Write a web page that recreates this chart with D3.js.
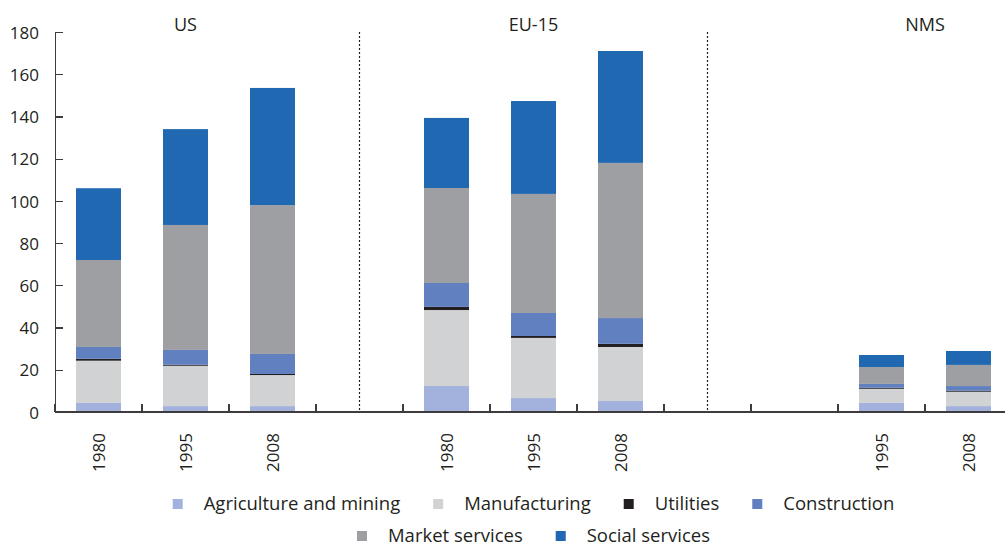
<!DOCTYPE html>
<html lang="en">
<head>
<meta charset="UTF-8">
<title>Employment by sector</title>
<script src="https://d3js.org/d3.v7.min.js"></script>
<style>
  body { margin: 0; background: #fff; }
  svg text { font-family: "Open Sans", sans-serif; fill: #231f20; }
  .axis path, .axis line { stroke: #3d3b3c; stroke-width: 1.3; shape-rendering: crispEdges; }
  .axis text { font-size: 17px; }
</style>
</head>
<body>
<div id="chart"></div>
<script>
// slots along the x axis (empty slots are the gaps between regions)
const slots = ["US 1980", "US 1995", "US 2008", "gap 1",
               "EU-15 1980", "EU-15 1995", "EU-15 2008", "gap 2",
               "NMS 1980", "NMS 1995", "NMS 2008"];
const slotGroup = ["US", "US", "US", "", "EU-15", "EU-15", "EU-15", "", "NMS", "NMS", "NMS"];
const yearLabels = ["1980", "1995", "2008", "", "1980", "1995", "2008", "", "", "1995", "2008"];
const groups = ["US", "EU-15", "NMS"];

const series = ["Agriculture and mining", "Manufacturing", "Utilities",
                "Construction", "Market services", "Social services"];
const colors = ["#a2b2dc", "#d1d2d4", "#231f20", "#6080c0", "#9e9fa3", "#2068b1"];

// values per slot (null = no bar)
const agriculture    = [4.3, 2.8, 2.8, null, 12.3, 6.6, 5.2, null, null, 4.3, 2.8];
const manufacturing  = [20.0, 19.1, 14.7, null, 36.0, 28.5, 25.6, null, null, 6.7, 6.8];
const utilities      = [0.9, 0.5, 0.5, null, 1.5, 0.9, 1.5, null, null, 0.5, 0.5];
const construction   = [5.6, 7.0, 9.5, null, 11.3, 10.9, 12.2, null, null, 1.8, 2.2];
const marketServices = [41.2, 59.2, 70.5, null, 45.0, 56.4, 73.5, null, null, 8.0, 10.0];
const socialServices = [34.0, 45.4, 55.5, null, 33.2, 44.0, 53.0, null, null, 5.7, 6.6];

const yTicks = [0, 20, 40, 60, 80, 100, 120, 140, 160, 180];

const values = [agriculture, manufacturing, utilities, construction, marketServices, socialServices];
const table = slots.map((s, i) => {
  const row = { slot: s };
  series.forEach((name, j) => row[name] = values[j][i] || 0);
  return row;
});

const W = 1005, H = 548;
const margin = { top: 32, left: 55, bottom: 136 };
const plotRight = 1012;

const svg = d3.select("#chart").append("svg")
  .attr("width", W).attr("height", H);

const x = d3.scaleBand()
  .domain(slots)
  .range([margin.left, plotRight])
  .paddingInner(0.483)
  .paddingOuter(0.2415);

const y = d3.scaleLinear()
  .domain([0, 180])
  .range([H - margin.bottom, margin.top]);

const stack = d3.stack().keys(series);
const layers = stack(table);

// bars
svg.append("g").selectAll("g")
  .data(layers)
  .join("g")
  .attr("fill", (d, i) => colors[i])
  .selectAll("rect")
  .data(d => d)
  .join("rect")
  .attr("x", d => x(d.data.slot))
  .attr("width", x.bandwidth())
  .attr("y", d => y(d[1]))
  .attr("height", d => y(d[0]) - y(d[1]));

// dotted separators in the gap slots
svg.append("g").selectAll("line")
  .data(slots.filter((s, i) => slotGroup[i] === ""))
  .join("line")
  .attr("x1", d => x(d) + x.bandwidth() / 2)
  .attr("x2", d => x(d) + x.bandwidth() / 2)
  .attr("y1", y(180)).attr("y2", y(0))
  .attr("stroke", "#231f20")
  .attr("stroke-width", 1.2)
  .attr("stroke-dasharray", "2,2");

// y axis with ticks pointing inward
svg.append("g")
  .attr("class", "axis")
  .attr("transform", `translate(${margin.left},0)`)
  .call(d3.axisLeft(y).tickValues(yTicks).tickSizeInner(-8).tickSizeOuter(0).tickPadding(16))
  .call(g => g.selectAll("text").attr("dy", "0.36em"));

// x axis line with boundary ticks
const step = x.step();
const gapHalf = (step - x.bandwidth()) / 2;
const boundaries = slots.map(s => x(s) - gapHalf).concat([x(slots[slots.length - 1]) + x.bandwidth() + gapHalf]);
const xAxis = svg.append("g").attr("class", "axis");
xAxis.append("line")
  .attr("x1", margin.left).attr("x2", plotRight + 10)
  .attr("y1", y(0)).attr("y2", y(0));
xAxis.selectAll(".btick")
  .data(boundaries)
  .join("line")
  .attr("class", "btick")
  .attr("x1", d => d).attr("x2", d => d)
  .attr("y1", y(0)).attr("y2", y(0) - 8);

// rotated year labels
svg.append("g").selectAll("text")
  .data(slots.filter((s, i) => yearLabels[i] !== ""))
  .join("text")
  .attr("transform", d => `translate(${x(d) + x.bandwidth() / 2},${y(0) + 21}) rotate(-90)`)
  .attr("text-anchor", "end")
  .attr("dy", "0.36em")
  .attr("font-size", "17px")
  .text(d => yearLabels[slots.indexOf(d)]);

// region titles above their bars
svg.append("g").selectAll("text")
  .data(groups)
  .join("text")
  .attr("x", g => {
    const c = slots.filter((s, i) => slotGroup[i] === g && yearLabels[i] !== "");
    return d3.mean(c, s => x(s) + x.bandwidth() / 2);
  })
  .attr("y", 31)
  .attr("text-anchor", "middle")
  .attr("font-size", "18px")
  .text(g => g);

// legend, two centered rows
const rows = [series.slice(0, 4), series.slice(4)];
const rowY = [504, 536];
const center = (margin.left + plotRight) / 2;
rows.forEach((names, r) => {
  const g = svg.append("g");
  const items = g.selectAll("g")
    .data(names)
    .join("g");
  items.append("rect")
    .attr("width", 10).attr("height", 10)
    .attr("y", rowY[r] - 5)
    .attr("fill", d => colors[series.indexOf(d)]);
  items.append("text")
    .attr("x", 31)
    .attr("y", rowY[r])
    .attr("dy", "0.34em")
    .attr("font-size", "18.5px")
    .text(d => d);
  let pos = 0;
  const offs = [];
  items.each(function () {
    offs.push(pos);
    pos += 31 + d3.select(this).select("text").node().getComputedTextLength() + 33;
  });
  const total = pos - 33;
  items.attr("transform", (d, i) => `translate(${center - total / 2 + offs[i]},0)`);
});
</script>
</body>
</html>
